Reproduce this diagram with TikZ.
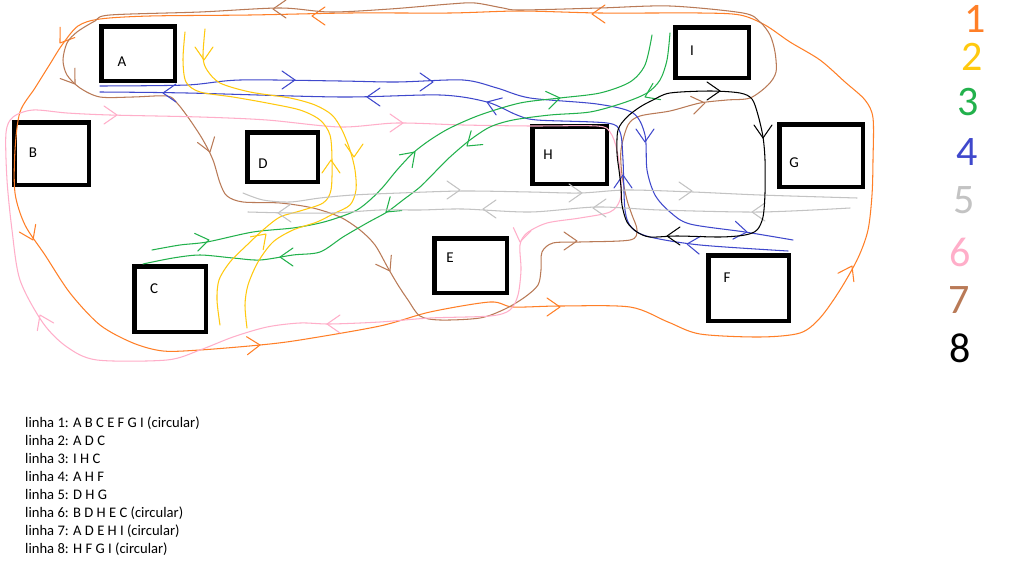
\documentclass[tikz,border=0pt]{standalone}
\usepackage{fontspec}
\setmainfont{Carlito}
\newfontfamily\labfont{Carlito}
\definecolor{c1}{HTML}{FF7F27}
\definecolor{c2}{HTML}{FFC90E}
\definecolor{c3}{HTML}{22B14C}
\definecolor{c4}{HTML}{3F48CC}
\definecolor{c5}{HTML}{C3C3C3}
\definecolor{c6}{HTML}{FFAEC9}
\definecolor{c7}{HTML}{B97A57}
\definecolor{c8}{HTML}{000000}
\newcommand\chv[4]{\draw[#1,shift={(#2,#3)},rotate=#4] (-13,9)--(0,0)--(-13,-9);}
\begin{document}
\begin{tikzpicture}[x=1pt,y=-1pt,
  box/.style={draw, line width=4.5pt, inner sep=0pt},
  lab/.style={font=\labfont\fontsize{15}{16}\selectfont, inner sep=0pt},
  ln/.style={line width=1.05pt, line cap=round, line join=round},
  l1/.style={ln, draw=c1}, l2/.style={ln, draw=c2}, l3/.style={ln, draw=c3},
  l4/.style={ln, draw=c4}, l5/.style={ln, draw=c5}, l6/.style={ln, draw=c6},
  l7/.style={ln, draw=c7}, l8/.style={ln, draw=c8},
  txt/.style={anchor=base west, inner sep=0pt, font=\fontsize{14.6}{17}\selectfont},
  dig/.style={inner sep=0pt, font=\fontsize{42}{42}\selectfont}]
\useasboundingbox[fill=white] (0,0) rectangle (1018,570);

% boxes
\node[box, minimum width=73.5pt, minimum height=54.5pt] (bA) at (138,53.5) {};
\node[box, minimum width=74.5pt, minimum height=62.5pt] (bB) at (51.5,153.5) {};
\node[box, minimum width=70.5pt, minimum height=49.5pt] (bD) at (282.5,157) {};
\node[box, minimum width=71.5pt, minimum height=65.5pt] (bC) at (170,299) {};
\node[box, minimum width=72.5pt, minimum height=54.5pt] (bE) at (470.5,265.5) {};
\node[box, minimum width=74.5pt, minimum height=57.5pt] (bH) at (569.5,155) {};
\node[box, minimum width=73.5pt, minimum height=50.5pt] (bI) at (712,52.5) {};
\node[box, minimum width=83.5pt, minimum height=62.5pt] (bG) at (821,155.5) {};
\node[box, minimum width=80.5pt, minimum height=65.5pt] (bF) at (748.5,288) {};

% line 1 orange
\draw[l1] plot[smooth cycle] coordinates {(15,193) (15,150) (20,112) (35,88) (50,64) (62,45) (78,26) (100,19) (150,16) (250,15) (350,13) (450,13) (520,11) (600,13) (700,13) (740,15) (765,25) (790,42) (820,60) (845,82) (865,100) (873,118) (873,160) (872,195) (868,230) (858,258) (840,290) (820,318) (800,333) (760,337) (700,334) (668,322) (630,307) (560,306) (513,307) (490,302) (430,312) (380,326) (300,340) (260,345) (200,350) (163,351) (133,343) (100,325) (70,293) (45,255) (25,225)};
\chv{l1}{33}{240}{-65}
\chv{l1}{60}{43}{-125}
\chv{l1}{260}{345}{3}
\chv{l1}{560}{307}{0}
\chv{l1}{852}{266}{62}
\chv{l1}{592}{14}{180}
\chv{l1}{312}{16}{180}

% line 7 brown
\draw[l7] plot[smooth cycle] coordinates {(110,15) (200,12) (280,8) (330,12) (390,9) (450,4) (475,3) (503,8) (520,10) (600,8) (670,6) (743,13) (760,22) (770,35) (775,52) (776,72) (768,85) (750,98) (727,100) (700,103) (670,111) (640,116) (628,125) (621,150) (622,175) (627,200) (632,215) (637,230) (630,240) (580,242) (553,243) (542,252) (541,270) (538,285) (525,297) (505,309) (480,318) (440,320) (420,316) (408,300) (398,285) (388,268) (375,245) (360,230) (340,217) (313,208) (280,203) (243,202) (227,196) (220,183) (213,160) (203,140) (190,120) (177,103) (167,96) (133,97) (100,97) (80,88) (67,75) (63,60) (67,43) (77,32) (95,21)};
\chv{l7}{75}{84}{-55}
\chv{l7}{210}{152}{-72}
\chv{l7}{390}{271}{-60}
\chv{l7}{577}{241}{0}
\chv{l7}{705}{103}{10}
\chv{l7}{273}{9}{180}

% line 6 pink
\draw[l6] plot[smooth cycle] coordinates {(7,180) (6,133) (13,117) (33,110) (67,113) (110,115) (200,117) (267,120) (340,127) (397,123) (463,125) (530,126) (597,126) (610,132) (617,150) (621,180) (620,200) (610,212) (580,218) (547,223) (527,233) (520,245) (521,270) (518,295) (510,310) (490,316) (430,318) (380,322) (330,324) (300,323) (267,327) (233,337) (200,350) (167,360) (97,360) (67,347) (43,323) (20,280) (12,230)};
\chv{l6}{117}{115}{0}
\chv{l6}{403}{123}{0}
\chv{l6}{520}{242}{-100}
\chv{l6}{327}{324}{180}
\chv{l6}{40}{315}{115}

% line 4 blue
\draw[l4] plot[smooth] coordinates {(100,86) (187,85) (240,80) (340,81) (397,82) (463,80) (497,88) (530,98) (597,104) (633,113) (645,135) (647,170) (655,195) (670,212) (690,224) (745,232) (793,240)};
\draw[l4] plot[smooth] coordinates {(100,92) (187,93) (340,97) (440,95) (487,102) (517,115) (537,120) (607,123) (620,132) (623,160) (625,210) (632,228) (650,237) (700,245) (788,251)};
\chv{l4}{295}{80}{0}
\chv{l4}{433}{82}{0}
\chv{l4}{645}{142}{-90}
\chv{l4}{747}{232}{-8}
\chv{l4}{163}{93}{180}
\chv{l4}{367}{97}{180}
\chv{l4}{487}{102}{160}
\chv{l4}{623}{175}{90}
\chv{l4}{687}{244}{175}

% line 3 green
\draw[l3] plot[smooth] coordinates {(152,250) (180,245) (207,242) (253,232) (293,228) (320,223) (340,217) (357,210) (370,200) (383,187) (397,170) (413,153) (430,140) (450,128) (480,115) (520,103) (560,98) (600,93) (630,82) (645,65) (652,35)};
\draw[l3] plot[smooth] coordinates {(143,264) (173,258) (200,255) (233,258) (260,260) (293,255) (320,252) (343,237) (367,223) (387,212) (403,200) (420,187) (435,172) (450,157) (470,140) (490,127) (513,120) (550,115) (590,112) (623,103) (647,93) (660,80) (667,60) (670,33)};
\chv{l3}{209}{240}{10}
\chv{l3}{415}{152}{45}
\chv{l3}{560}{98}{10}
\chv{l3}{645}{97}{-155}
\chv{l3}{467}{146}{-140}
\chv{l3}{386}{212}{-140}
\chv{l3}{280}{257}{180}

% line 2 yellow
\draw[l2] plot[smooth] coordinates {(185,32) (183,60) (186,82) (200,92) (233,97) (267,103) (300,110) (320,120) (330,135) (332,160) (331,190) (323,203) (300,211) (280,217) (263,230) (247,245) (230,262) (219,280) (217,300) (220,325)};
\draw[l2] plot[smooth] coordinates {(205,29) (203,57) (207,70) (220,83) (250,92) (290,98) (315,105) (332,115) (342,130) (350,150) (355,170) (356,190) (350,205) (333,214) (317,222) (293,230) (273,242) (258,262) (248,285) (245,305) (247,328)};
\chv{l2}{204}{60}{-90}
\chv{l2}{354}{157}{-90}
\chv{l2}{331}{160}{90}
\chv{l2}{266}{234}{45}

% line 5 gray
\draw[l5] plot[smooth] coordinates {(243,193) (263,200) (290,202) (320,198) (353,195) (400,193) (463,191) (530,192) (580,193) (627,190) (693,192) (760,195) (857,198)};
\draw[l5] plot[smooth] coordinates {(248,212) (290,213) (333,213) (380,210) (420,210) (463,209) (530,212) (597,207) (660,210) (760,212) (850,208)};
\chv{l5}{460}{190}{0}
\chv{l5}{582}{193}{0}
\chv{l5}{692}{191}{0}
\chv{l5}{278}{213}{180}
\chv{l5}{483}{209}{180}
\chv{l5}{593}{208}{180}
\chv{l5}{752}{212}{180}

% line 8 black
\draw[l8] plot[smooth cycle] coordinates {(670,93) (710,91) (740,93) (752,99) (758,115) (763,137) (765,160) (765,193) (763,217) (757,230) (745,235) (720,237) (677,236) (650,237) (637,232) (627,222) (622,205) (621,187) (619,170) (617,153) (618,130) (627,117) (640,107) (653,100)};
\chv{l8}{720}{91}{0}
\chv{l8}{763}{138}{-90}
\chv{l8}{667}{236}{180}

% box labels
\node[lab] (A) at (122,62) {A};
\node[lab] (B) at (33,153) {B};
\node[lab] (D) at (263,164) {D};
\node[lab] (C) at (154,289) {C};
\node[lab] (E) at (450,258) {E};
\node[lab] (H) at (548,155) {H};
\node[lab] (I) at (692,51) {I};
\node[lab] (G) at (794,163) {G};
\node[lab] (F) at (727,278) {F};

% legend digits
\node[dig, text=c1] (d1) at (975,19) {1};
\node[dig, text=c2] (d2) at (972,57) {2};
\node[dig, text=c3] (d3) at (968,102) {3};
\node[dig, text=c4] (d4) at (967,152) {4};
\node[dig, text=c5] (d5) at (964,200) {5};
\node[dig, text=c6] (d6) at (960,252) {6};
\node[dig, text=c7] (d7) at (959,300) {7};
\node[dig, text=c8] (d8) at (960,348) {8};

% text list
\node[txt] (t1) at (25,427) {linha 1: A B C E F G I (circular)};
\node[txt] (t2) at (25,445) {linha 2: A D C};
\node[txt] (t3) at (25,463) {linha 3: I H C};
\node[txt] (t4) at (25,481) {linha 4: A H F};
\node[txt] (t5) at (25,499) {linha 5: D H G};
\node[txt] (t6) at (25,517) {linha 6: B D H E C (circular)};
\node[txt] (t7) at (25,535) {linha 7: A D E H I (circular)};
\node[txt] (t8) at (25,553) {linha 8: H F G I (circular)};
\end{tikzpicture}
\end{document}
